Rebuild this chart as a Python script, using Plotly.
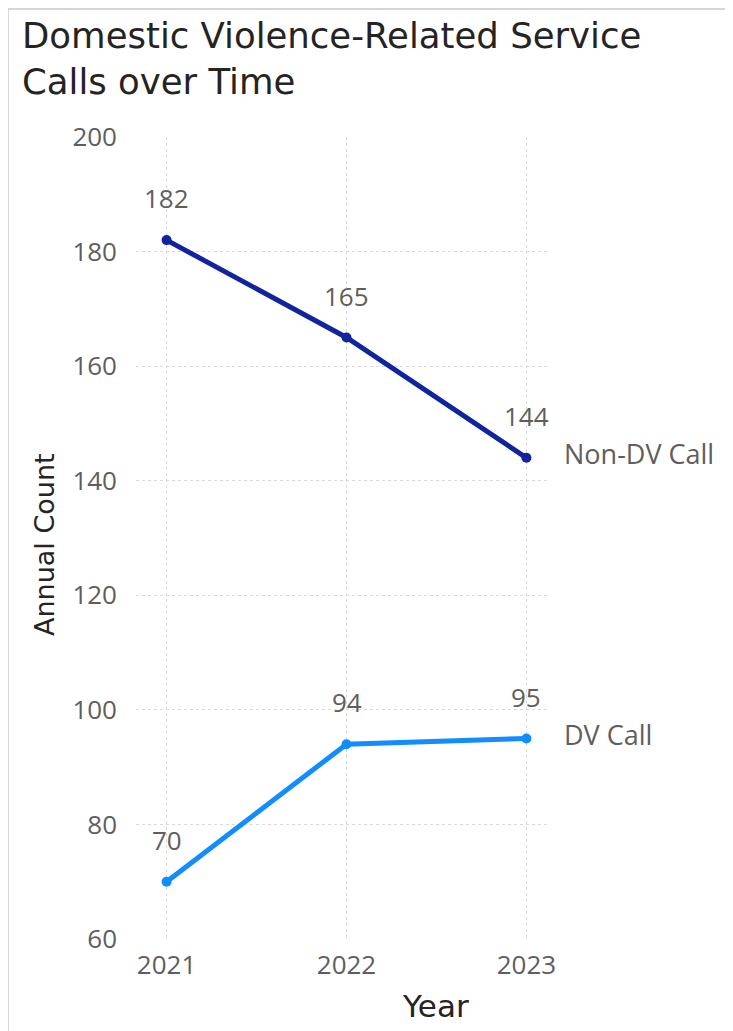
import plotly.graph_objects as go

# Данные
years = [2021, 2022, 2023]
non_dv_calls = [182, 165, 144]
dv_calls = [70, 94, 95]
series_names = ["Non-DV Call", "DV Call"]
series_colors = ["#12239E", "#118DFF"]
y_ticks = [60, 80, 100, 120, 140, 160, 180, 200]

TEXT_DARK = "#252423"
TEXT_GRAY = "#605E5C"
GRID = "#DADADA"
FONT = "Open Sans"
TITLE_FONT = "DejaVu Sans"

# область построения в пикселях страницы (страница сдвинута на 8 px)
PLOT_W, PLOT_H = 412, 802


def px_x(px):
    return (px - 136) / PLOT_W


def px_y(py):
    return (939 - py) / PLOT_H


fig = go.Figure()

for name, values, color in zip(series_names, [non_dv_calls, dv_calls], series_colors):
    fig.add_trace(
        go.Scatter(
            x=years, y=values, mode="lines+markers", name=name,
            line=dict(color=color, width=5),
            marker=dict(color=color, size=10),
            hoverinfo="skip",
        )
    )
    # подписи значений над точками
    for x, y in zip(years, values):
        fig.add_annotation(
            x=x, y=y, text=str(y), showarrow=False, yshift=42,
            font=dict(size=26, color=TEXT_GRAY, family=FONT),
        )
    # подпись ряда справа от последней точки
    fig.add_annotation(
        x=years[-1], y=values[-1], text=name, showarrow=False,
        xanchor="left", xshift=36, yshift=4,
        font=dict(size=27, color=TEXT_GRAY, family=FONT),
    )

# заголовок
fig.add_annotation(
    x=px_x(20), y=px_y(13), xref="paper", yref="paper",
    text="Domestic Violence-Related Service<br>Calls over Time",
    showarrow=False, xanchor="left", yanchor="top", align="left",
    font=dict(size=35.5, color=TEXT_DARK, family=TITLE_FONT),
)
# подписи осей
fig.add_annotation(
    x=px_x(44), y=px_y(545), xref="paper", yref="paper", text="Annual Count",
    showarrow=False, textangle=-90, xanchor="center", yanchor="middle",
    font=dict(size=27, color=TEXT_DARK, family=TITLE_FONT),
)
fig.add_annotation(
    x=px_x(435), y=px_y(1006), xref="paper", yref="paper", text="Year",
    showarrow=False, xanchor="center", yanchor="middle",
    font=dict(size=31, color=TEXT_DARK, family=TITLE_FONT),
)

# рамка визуала (левая и верхняя грани)
frame = dict(type="line", xref="paper", yref="paper", line=dict(color="#C8C8C8", width=1.5))
fig.add_shape(x0=px_x(8), x1=px_x(8), y0=-0.2, y1=px_y(9), **frame)
fig.add_shape(x0=px_x(8), x1=1.5, y0=px_y(9), y1=px_y(9), **frame)

fig.update_layout(
    width=733, height=1031,
    margin=dict(l=128, r=193, t=129, b=100),
    paper_bgcolor="white", plot_bgcolor="white",
    showlegend=False,
    font=dict(family=FONT),
)

fig.update_xaxes(
    range=[2020.83, 2023.12],
    tickvals=years, ticktext=[str(y) for y in years],
    showgrid=True, gridcolor=GRID, griddash="dot", gridwidth=1.2,
    zeroline=False, showline=False,
    ticks="", ticklabelstandoff=8,
    tickfont=dict(size=26, color=TEXT_GRAY, family=FONT),
    fixedrange=True,
)
fig.update_yaxes(
    range=[60, 200],
    tickvals=y_ticks,
    showgrid=True, gridcolor=GRID, griddash="dot", gridwidth=1.2,
    zeroline=False, showline=False,
    ticks="", ticklabelstandoff=18,
    tickfont=dict(size=26, color=TEXT_GRAY, family=FONT),
    fixedrange=True,
)

fig.write_html("out.html")
